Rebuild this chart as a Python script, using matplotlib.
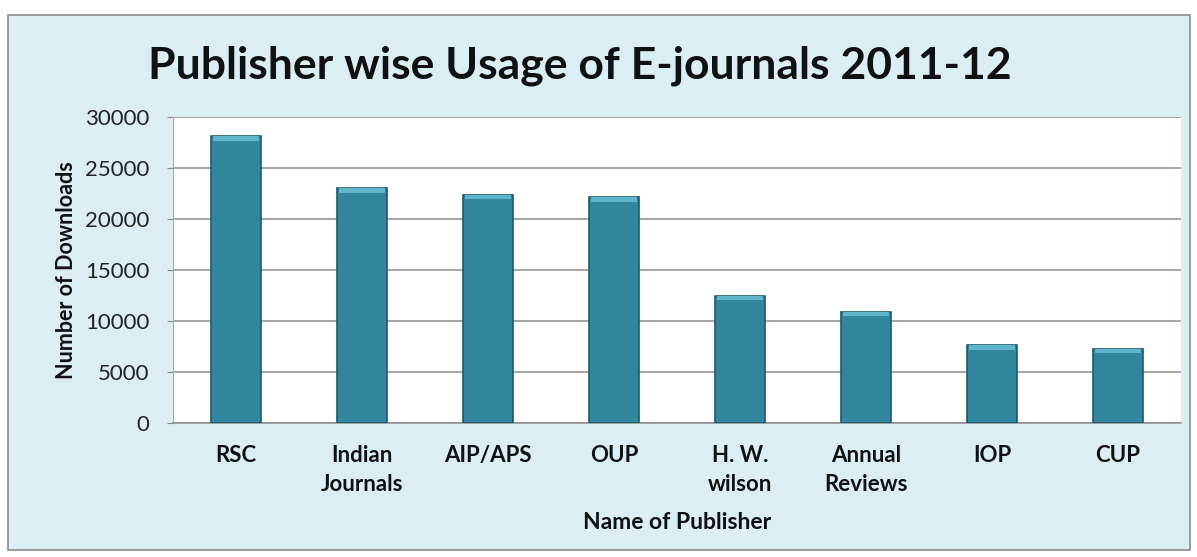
import matplotlib.pyplot as plt
from matplotlib.patches import Rectangle

publishers = ['RSC', 'Indian\nJournals', 'AIP/APS', 'OUP', 'H. W.\nwilson',
              'Annual\nReviews', 'IOP', 'CUP']
downloads = [28100, 23000, 22400, 22150, 12500, 10900, 7650, 7300]
yticks = [0, 5000, 10000, 15000, 20000, 25000, 30000]

plt.rcParams['font.family'] = ['Lato', 'DejaVu Sans']

fig = plt.figure(figsize=(11.97, 5.57), dpi=100)
fig.patch.set_facecolor('white')

# outer chart frame drawn on a background axes
bg = fig.add_axes([0, 0, 1, 1], zorder=-1)
bg.set_xlim(0, 1197)
bg.set_ylim(557, 0)
bg.axis('off')
bg.add_patch(Rectangle((8, 15), 1182, 535, facecolor='#dbeef4',
                       edgecolor='#8c8c8c', linewidth=1.2))

ax = fig.add_axes([173 / 1197, (557 - 423) / 557, 1008 / 1197, 306 / 557])
ax.set_facecolor('white')

x = range(len(publishers))
ax.bar(x, downloads, width=0.4, color='#31859c', edgecolor='#1d5a6b',
       linewidth=1.2, zorder=3)
# light bevel on top of each bar
ax.bar(x, [450] * len(downloads), bottom=[d - 450 for d in downloads],
       width=0.37, color='#5fb6cc', linewidth=0, zorder=4)

ax.set_xlim(-0.5, len(publishers) - 0.5)
ax.set_ylim(0, 30000)
ax.set_yticks(yticks)
ax.set_yticklabels([str(v) for v in yticks], fontsize=16, color='#222222')
ax.set_xticks(list(x))
ax.set_xticklabels(publishers, fontsize=16, fontweight='bold', color='#111111',
                   linespacing=1.45)
ax.tick_params(axis='x', length=0, pad=16)
ax.tick_params(axis='y', length=4, color='#888888', pad=13)
ax.yaxis.grid(True, color='#8c8c8c', linewidth=1.1, zorder=0)
ax.set_axisbelow(True)
for s in ['top', 'right']:
    ax.spines[s].set_visible(False)
ax.spines['left'].set_color('#aaaaaa')
ax.spines['bottom'].set_color('#8c8c8c')
ax.spines['bottom'].set_linewidth(1.1)

ax.set_ylabel('Number of Downloads', fontsize=15.5, fontweight='bold',
              color='#111111', labelpad=6)
ax.set_xlabel('Name of Publisher', fontsize=16.5, fontweight='bold',
              color='#111111', labelpad=12)

fig.text(580 / 1197, 1 - 66 / 557, 'Publisher wise Usage of E-journals 2011-12',
         ha='center', va='center', fontsize=32, fontweight='bold', color='#111111')

fig.savefig('out.png', dpi=100)
